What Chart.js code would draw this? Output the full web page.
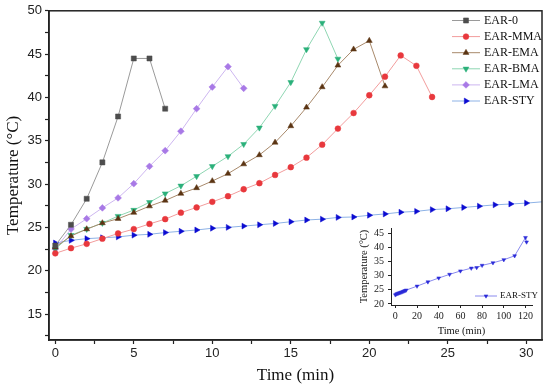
<!DOCTYPE html>
<html>
<head>
<meta charset="utf-8">
<script src="https://cdn.jsdelivr.net/npm/chart.js@4/dist/chart.umd.min.js"></script>
<style>
  html, body { margin: 0; padding: 0; background: #fff; }
  #marco { position: relative; width: 550px; height: 391px; }
  #grafico { position: absolute; left: 0; top: 0; }
  #inset { position: absolute; left: 340px; top: 215px; }
</style>
</head>
<body>
<div id="marco">
  <canvas id="grafico" width="550" height="391"></canvas>
  <canvas id="inset" width="205" height="125"></canvas>
</div>
<script>
// minutos (eje x)
const minutos = [0, 1, 2, 3, 4, 5, 6, 7, 8, 9, 10, 11, 12, 13, 14, 15, 16, 17, 18, 19, 20,
  21, 22, 23, 24, 25, 26, 27, 28, 29, 30, 32];

// temperaturas (°C)
const ear0 = [22.9, 25.3, 28.3, 32.5, 37.8, 44.5, 44.5, 38.7];
const earMMA = [22.0, 22.6, 23.1, 23.7, 24.3, 24.8, 25.4, 25.95, 26.7, 27.3, 27.95, 28.6, 29.4,
  30.1, 31.05, 31.95, 33.05, 34.55, 36.4, 38.2, 40.25, 42.4, 44.85, 43.65, 40.05];
const earEMA = [22.7, 24.0, 24.8, 25.5, 26.0, 26.7, 27.45, 28.1, 28.9, 29.55, 30.35, 31.2, 32.3,
  33.35, 34.8, 36.7, 38.85, 41.2, 43.7, 45.55, 46.55, 41.3];
const earBMA = [22.5, 24.1, 24.8, 25.5, 26.3, 27.0, 27.9, 28.9, 29.8, 30.9, 32.05, 33.2, 34.6,
  36.5, 39.0, 41.75, 45.55, 48.6, 44.45];
const earLMA = [22.5, 24.8, 26.0, 27.25, 28.4, 30.05, 32.05, 33.85, 36.1, 38.7, 41.2, 43.55, 41.05];
const earSTY = [23.2, 23.5, 23.7, 23.8, 23.9, 24.1, 24.2, 24.4, 24.55, 24.7, 24.9, 25.0, 25.15,
  25.3, 25.45, 25.65, 25.85, 25.95, 26.15, 26.2, 26.4, 26.55, 26.75, 26.85, 27.05, 27.15, 27.3,
  27.45, 27.6, 27.7, 27.8, 28.1];

// inset: EAR-STY hasta 121 min
const minutosInset = [0, 1, 2, 3, 4, 5, 6, 7, 8, 9, 10, 20, 30, 40, 50, 60, 70, 75, 80, 90, 100,
  110, 120, 121];
const styInset = [23.2, 23.5, 23.7, 23.8, 23.9, 24.1, 24.2, 24.4, 24.55, 24.7, 24.9, 26.3, 27.8,
  29.2, 30.5, 31.7, 32.7, 32.9, 33.7, 34.6, 35.7, 37.1, 43.6, 42.0];

// ticks
const ticksX = [0, 2.5, 5, 7.5, 10, 12.5, 15, 17.5, 20, 22.5, 25, 27.5, 30];
const ticksY = [12.5, 15, 17.5, 20, 22.5, 25, 27.5, 30, 32.5, 35, 37.5, 40, 42.5, 45, 47.5, 50];
const ticksXInset = [0, 20, 40, 60, 80, 100, 120];
const ticksYInset = [20, 25, 30, 35, 40, 45];

const fuenteTicks = { family: "'Liberation Sans', Arial, sans-serif", size: 13 };
const serif = "'Liberation Serif', 'Times New Roman', serif";

function serie(label, xs, ys, marca, rot, colorMarca, colorLinea, radio) {
  return {
    label,
    data: ys.map((y, i) => ({ x: xs[i], y })),
    pointStyle: marca,
    pointRotation: rot,
    pointRadius: radio,
    pointBackgroundColor: colorMarca,
    pointBorderColor: colorMarca,
    pointBorderWidth: 0.5,
    borderColor: colorLinea,
    borderWidth: 1,
    tension: 0
  };
}

function dibujarPunto(ctx, ds, x, y) {
  if (Chart.helpers && Chart.helpers.drawPoint) {
    Chart.helpers.drawPoint(ctx, {
      pointStyle: ds.pointStyle, rotation: ds.pointRotation || 0,
      radius: ds.pointRadius, borderWidth: 0.5
    }, x, y);
  } else {
    ctx.beginPath();
    ctx.arc(x, y, ds.pointRadius, 0, Math.PI * 2);
    ctx.fill();
  }
}

const leyendaPlugin = {
  id: 'leyenda',
  afterDraw(chart, args, opts) {
    const ctx = chart.ctx;
    ctx.save();
    ctx.font = opts.font;
    ctx.textBaseline = 'middle';
    chart.data.datasets.forEach((ds, i) => {
      const y = opts.y + i * opts.paso;
      ctx.strokeStyle = ds.borderColor;
      ctx.lineWidth = 1;
      ctx.beginPath();
      ctx.moveTo(opts.x, y);
      ctx.lineTo(opts.x + opts.largo, y);
      ctx.stroke();
      ctx.fillStyle = ds.pointBackgroundColor;
      ctx.strokeStyle = ds.pointBackgroundColor;
      ctx.lineWidth = 0.5;
      dibujarPunto(ctx, ds, opts.x + opts.largo / 2, y);
      ctx.fillStyle = opts.color;
      ctx.fillText(ds.label, opts.x + opts.largo + opts.hueco, y);
    });
    ctx.restore();
  }
};

const cajaPlugin = {
  id: 'caja',
  afterDraw(chart, args, opts) {
    if (!opts.mostrar) return;
    const { ctx, chartArea: a } = chart;
    ctx.save();
    ctx.strokeStyle = '#222';
    ctx.lineWidth = 1.5;
    ctx.strokeRect(a.left, a.top, a.right - a.left, a.bottom - a.top);
    ctx.restore();
  }
};

const esMultiplo = (v, m) => Math.abs(v / m - Math.round(v / m)) < 1e-6;

new Chart(document.getElementById('grafico'), {
  type: 'line',
  data: {
    datasets: [
      serie('EAR-0', minutos, ear0, 'rect', 0, '#4d4d4d', '#9a9a9a', 3.6),
      serie('EAR-MMA', minutos, earMMA, 'circle', 0, '#e8383d', '#f29c9c', 2.9),
      serie('EAR-EMA', minutos, earEMA, 'triangle', 0, '#5b3413', '#a8896b', 3.4),
      serie('EAR-BMA', minutos, earBMA, 'triangle', 180, '#2bb07a', '#8ed6b2', 3.4),
      serie('EAR-LMA', minutos, earLMA, 'rectRot', 0, '#a879e6', '#cdb6f0', 3.4),
      serie('EAR-STY', minutos, earSTY, 'triangle', 90, '#0b0bd1', '#8db2e6', 3.4)
    ]
  },
  options: {
    responsive: false,
    animation: false,
    layout: { padding: { top: 9, right: 8, left: 0, bottom: 0 } },
    plugins: {
      legend: { display: false },
      tooltip: { enabled: false },
      caja: { mostrar: true },
      leyenda: { x: 452, y: 20.5, paso: 16.1, largo: 28, hueco: 4, font: '12px ' + serif, color: '#111' }
    },
    scales: {
      x: {
        type: 'linear', min: -0.4, max: 31,
        afterBuildTicks: s => { s.ticks = ticksX.map(v => ({ value: v })); },
        afterFit: s => { s.height = 51; },
        ticks: {
          autoSkip: false, maxRotation: 0, padding: 2, color: '#222', font: fuenteTicks,
          callback: v => esMultiplo(v, 5) ? String(v) : ''
        },
        grid: { drawOnChartArea: false, drawTicks: true, tickLength: 4, tickColor: '#222', tickWidth: 1.2 },
        border: { color: '#222', width: 1.5 },
        title: { display: true, text: 'Time (min)', color: '#111', font: { family: serif, size: 17 }, padding: { top: 0, bottom: 5 } }
      },
      y: {
        type: 'linear', min: 12, max: 50,
        afterBuildTicks: s => { s.ticks = ticksY.map(v => ({ value: v })); },
        afterFit: s => { s.width = 49; },
        ticks: {
          autoSkip: false, padding: 3, color: '#222', font: fuenteTicks,
          callback: v => esMultiplo(v, 5) ? String(v) : ''
        },
        grid: { drawOnChartArea: false, drawTicks: true, tickLength: 4, tickColor: '#222', tickWidth: 1.2 },
        border: { color: '#222', width: 1.5 },
        title: { display: true, text: 'Temperature (°C)', color: '#111', font: { family: serif, size: 17 }, padding: { top: 3, bottom: 0 } }
      }
    }
  },
  plugins: [cajaPlugin, leyendaPlugin]
});

const fuenteInset = { family: serif, size: 10 };

new Chart(document.getElementById('inset'), {
  type: 'line',
  data: {
    datasets: [
      serie('EAR-STY', minutosInset, styInset, 'triangle', 180, '#2a2ad8', '#8a8aee', 2.2)
    ]
  },
  options: {
    responsive: false,
    animation: false,
    layout: { padding: { top: 13, right: 13, left: 0, bottom: 0 } },
    plugins: {
      legend: { display: false },
      tooltip: { enabled: false },
      caja: { mostrar: false },
      leyenda: { x: 135, y: 81, paso: 12, largo: 22, hueco: 3, font: '9px ' + serif, color: '#111' }
    },
    scales: {
      x: {
        type: 'linear', min: -4, max: 126,
        afterBuildTicks: s => { s.ticks = ticksXInset.map(v => ({ value: v })); },
        afterFit: s => { s.height = 35; },
        ticks: { autoSkip: false, maxRotation: 0, padding: 2, color: '#222', font: fuenteInset },
        grid: { drawOnChartArea: false, drawTicks: true, tickLength: 3, tickColor: '#222' },
        border: { color: '#222', width: 1 },
        title: { display: true, text: 'Time (min)', color: '#111', font: { family: serif, size: 10.5 }, padding: { top: 0, bottom: 2 } }
      },
      y: {
        type: 'linear', min: 19.6, max: 47,
        afterBuildTicks: s => { s.ticks = ticksYInset.map(v => ({ value: v })); },
        afterFit: s => { s.width = 51; },
        ticks: { autoSkip: false, padding: 4, color: '#222', font: fuenteInset },
        grid: { drawOnChartArea: false, drawTicks: true, tickLength: 3, tickColor: '#222' },
        border: { color: '#222', width: 1 },
        title: { display: true, text: 'Temperature (°C)', color: '#111', font: { family: serif, size: 10.5 }, padding: { top: 18, bottom: 0 } }
      }
    }
  },
  plugins: [cajaPlugin, leyendaPlugin]
});
</script>
</body>
</html>
